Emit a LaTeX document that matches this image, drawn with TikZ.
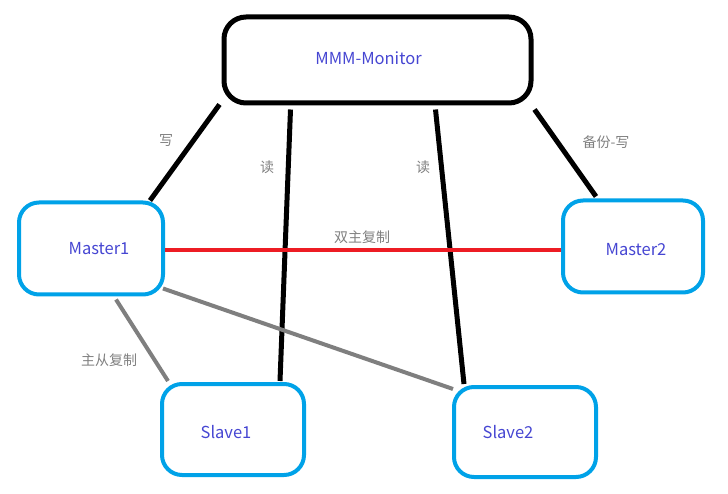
\documentclass[tikz,border=0pt]{standalone}
\usepackage{fontspec}
\setmainfont{Noto Sans CJK SC}
\usetikzlibrary{calc,positioning}
\definecolor{BoxCyan}{HTML}{00A2E8}
\definecolor{LinkRed}{HTML}{ED1C24}
\definecolor{LinkGray}{HTML}{7F7F7F}
\definecolor{NameBlue}{HTML}{4646D2}
\definecolor{NoteGray}{HTML}{808080}
\tikzset{
  monbox/.style={draw=black,line width=5pt,rounded corners=22pt,
    minimum width=307pt,minimum height=86pt,inner sep=0pt},
  dbbox/.style={draw=BoxCyan,line width=4pt,rounded corners=20pt,
    minimum width=142pt,minimum height=92pt,inner sep=0pt},
  boxname/.style={text=NameBlue,font=\fontsize{16.5}{18}\selectfont},
  note/.style={text=NoteGray,font=\fontsize{14}{16}\selectfont},
  rwlink/.style={draw=black,line width=5pt},
  synclink/.style={draw=LinkGray,line width=4pt},
}
\begin{document}
\begin{tikzpicture}[x=1pt,y=-1pt]
  \useasboundingbox (0,0) rectangle (728,494);

  % boxes
  \node[monbox,label={[boxname,xshift=-9pt,yshift=2pt]center:MMM-Monitor}] (mon) at (377.5,60) {};
  \node[dbbox,minimum width=144pt,label={[boxname,xshift=8pt]center:Master1}] (m1) at (91,248.5) {};
  \node[dbbox,minimum width=140pt,label={[boxname,xshift=3pt,yshift=-3.5pt]center:Master2}] (m2) at (633,246.5) {};
  \node[dbbox,minimum height=91pt,label={[boxname,xshift=-7pt,yshift=-2.5pt]center:Slave1}] (s1) at (233,429.5) {};
  \node[dbbox,minimum height=90pt,label={[boxname,xshift=-17pt]center:Slave2}] (s2) at (525,432) {};

  % monitor links
  \draw[rwlink] ([xshift=-2pt,yshift=1pt]mon.south west) -- ([xshift=-15pt]m1.north east);
  \draw[rwlink] ([xshift=69pt,yshift=-4pt]mon.south west) -- ([xshift=47pt,yshift=1pt]s1.north);
  \draw[rwlink] ([xshift=-98pt,yshift=-4pt]mon.south east) -- ([xshift=12pt,yshift=1pt]s2.north west);
  \draw[rwlink] ([xshift=1pt,yshift=-4pt]mon.south east) -- ([xshift=35pt,yshift=2pt]m2.north west);

  % replication
  \draw[LinkRed,line width=4pt] ([yshift=-1.5pt]m1.east) -- ([yshift=-3.5pt]m2.west);
  \draw[synclink] ([xshift=25pt,yshift=-3pt]m1.south) -- ([xshift=8pt,yshift=1pt]s1.north west);
  \draw[synclink] ([xshift=-2pt,yshift=8pt]m1.south east) -- ([xshift=1pt,yshift=-4pt]s2.north west);

  % notes
  \node[note] (w1) at (166,140) {写};
  \node[note] (r1) at (267,167) {读};
  \node[note] (r2) at (423,167) {读};
  \node[note] (w2) at (606,142) {备份-写};
  \node[note] (mm) at (362,237) {双主复制};
  \node[note] (ms) at (109,360) {主从复制};
\end{tikzpicture}
\end{document}
